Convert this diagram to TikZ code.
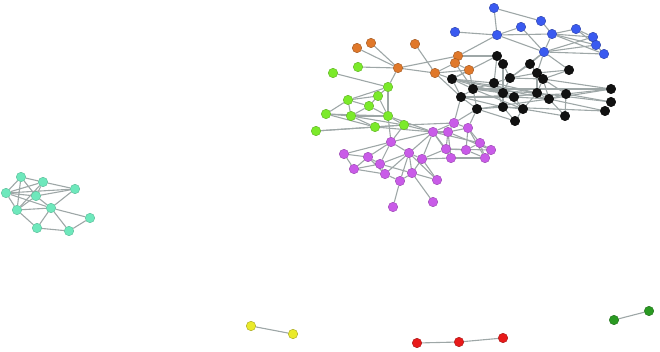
\documentclass[tikz,border=0pt]{standalone}
\usetikzlibrary{backgrounds}
\definecolor{cblue}{HTML}{3A5AF0}
\definecolor{corange}{HTML}{E0782A}
\definecolor{cgreen}{HTML}{7BEA2A}
\definecolor{cblack}{HTML}{111111}
\definecolor{cmag}{HTML}{C95BE8}
\definecolor{ccyan}{HTML}{6EE8BC}
\definecolor{cyellow}{HTML}{EAEA2A}
\definecolor{cred}{HTML}{E81A1A}
\definecolor{cdgreen}{HTML}{2A9A22}
\definecolor{cedge}{HTML}{9EA7A7}
\tikzset{
  vtx/.style={circle,inner sep=0pt,minimum size=9.5pt,line width=0.4pt},
  bv/.style={vtx,fill=cblue,draw=cblue!70!black},
  ov/.style={vtx,fill=corange,draw=corange!70!black},
  gv/.style={vtx,fill=cgreen,draw=cgreen!75!black},
  kv/.style={vtx,fill=cblack,draw=black},
  mv/.style={vtx,fill=cmag,draw=cmag!75!black},
  cv/.style={vtx,fill=ccyan,draw=ccyan!80!black},
  yv/.style={vtx,fill=cyellow,draw=cyellow!70!black},
  rv/.style={vtx,fill=cred,draw=cred!70!black},
  dv/.style={vtx,fill=cdgreen,draw=cdgreen!70!black},
  edge/.style={draw=cedge,line width=1.1pt}
}
\begin{document}
\begin{tikzpicture}[x=1pt,y=-1pt]
\useasboundingbox (0,0) rectangle (660,352);
% blue
\foreach \n/\x/\y in {B1/494/8,B2/455/32,B3/497/35,B4/521/27,B5/541/21,B6/552/34,B7/576/29,B8/593/37,B9/596/45,B10/604/54,B11/544/52}
  \node[bv] (\n) at (\x,\y) {};
% orange
\foreach \n/\x/\y in {O1/357/48,O2/371/43,O3/415/44,O4/458/56,O5/455/63,O6/469/70,O7/398/68,O8/435/73}
  \node[ov] (\n) at (\x,\y) {};
% green
\foreach \n/\x/\y in {G1/333/73,G2/358/67,G3/388/87,G4/378/96,G5/348/100,G6/369/106,G7/326/114,G8/351/116,G9/388/116,G10/316/131,G11/375/127,G12/404/125}
  \node[gv] (\n) at (\x,\y) {};
% black
\foreach \n/\x/\y in {K1/497/56,K2/503/64,K3/530/64,K4/537/73,K5/569/70,K6/452/79,K7/510/78,K8/543/79,K9/494/83,K10/473/89,K11/611/89,K12/566/94,K13/503/93,K14/514/97,K15/537/93,K16/549/99,K17/461/97,K18/611/102,K19/477/109,K20/503/107,K21/523/109,K22/605/111,K23/565/116,K24/515/121}
  \node[kv] (\n) at (\x,\y) {};
% magenta
\foreach \n/\x/\y in {M1/454/123,M2/433/132,M3/448/132,M4/468/128,M5/391/142,M6/409/153,M7/446/149,M8/466/150,M9/480/143,M10/491/150,M11/485/158,M12/451/158,M13/422/159,M14/344/154,M15/368/157,M16/380/164,M17/354/169,M18/412/173,M19/385/174,M20/400/181,M21/437/180,M22/433/202,M23/393/207}
  \node[mv] (\n) at (\x,\y) {};
% cyan
\foreach \n/\x/\y in {C1/21/177,C2/43/182,C3/75/189,C4/6/193,C5/36/196,C6/51/208,C7/17/210,C8/90/218,C9/37/228,C10/69/231}
  \node[cv] (\n) at (\x,\y) {};
% small components
\node[yv] (Y1) at (251,326) {};
\node[yv] (Y2) at (293,334) {};
\node[rv] (R1) at (417,343) {};
\node[rv] (R2) at (459,342) {};
\node[rv] (R3) at (503,338) {};
\node[dv] (D1) at (614,320) {};
\node[dv] (D2) at (649,311) {};
\begin{scope}[on background layer]
\foreach \a/\b in {B1/B3,B1/B5,B2/B3,B3/B4,B3/B11,B3/B6,B4/B11,B5/B6,B6/B7,B6/B11,B6/B8,B6/B9,B7/B9,B11/B8,B11/B9,B11/B10,B8/B9,B9/B10,B7/B8,B3/O4,B11/K3,B11/K4,B11/K5,B11/K7,B6/B10,
  O1/O7,O2/O7,O3/O8,O7/O8,O7/G2,O7/G3,O7/O4,O8/O5,O8/O6,O8/K6,O4/O5,O5/O6,O6/K6,O6/K10,O4/K1,O5/K10,O8/K17,
  G1/G3,G3/G4,G3/G9,G3/G5,G4/G6,G4/G5,G5/G6,G5/G8,G5/G7,G7/G8,G6/G9,G7/G9,G8/G9,G6/G8,G7/G11,G8/G11,G10/G11,G10/G12,G9/G12,G11/G12,G8/G12,G12/M2,G12/M1,G9/M2,G11/M2,G12/M5,G9/M5,G4/G9,
  M1/M2,M1/M3,M1/M4,M2/M3,M3/M4,M2/M7,M3/M7,M4/M8,M4/M9,M7/M8,M8/M9,M9/M10,M10/M11,M8/M11,M7/M12,M12/M11,M3/M12,M2/M5,M2/M6,M2/M13,M5/M6,M5/M14,M5/M15,M5/M16,M6/M13,M6/M18,M6/M20,M6/M19,M6/M21,M6/M16,M13/M21,M13/M12,M13/M18,M14/M15,M14/M17,M15/M16,M15/M17,M16/M17,M16/M19,M16/M18,M15/M19,M17/M19,M19/M20,M18/M20,M18/M22,M20/M23,M21/M18,M13/M7,M2/M9,M3/M10,M4/M11,M1/K19,M4/K19,M1/K17,M2/M12,M9/M11,M7/M10,
  K1/K2,K1/K9,K1/K6,K2/K7,K2/K13,K3/K4,K3/K7,K4/K8,K4/K7,K5/K4,K5/K8,K6/K10,K6/K9,K6/K17,K6/K14,K6/K15,K7/K9,K7/K8,K7/K13,K8/K15,K8/K16,K8/K11,K9/K10,K9/K13,K9/K14,K9/K20,K10/K17,K10/K13,K10/K19,K10/K15,K10/K11,K12/K16,K12/K11,K12/K18,K12/K8,K13/K14,K13/K20,K13/K21,K14/K15,K14/K21,K14/K16,K15/K16,K15/K21,K16/K22,K16/K23,K16/K11,K17/K19,K17/K20,K17/K14,K19/K20,K19/K24,K20/K21,K20/K24,K21/K24,K21/K23,K22/K20,K18/K15,K15/K9,K6/K16,K17/K12,K19/K16,K10/K21,K23/K12,K4/K15,
  C1/C2,C1/C4,C1/C5,C1/C7,C2/C3,C2/C4,C2/C5,C2/C7,C3/C4,C3/C5,C3/C6,C4/C5,C4/C6,C4/C7,C5/C6,C5/C7,C7/C6,C6/C8,C6/C9,C6/C10,C7/C9,C9/C10,C8/C10,
  Y1/Y2,R1/R2,R2/R3,D1/D2}
  \draw[edge] (\a) -- (\b);
\end{scope}
\end{tikzpicture}
\end{document}
